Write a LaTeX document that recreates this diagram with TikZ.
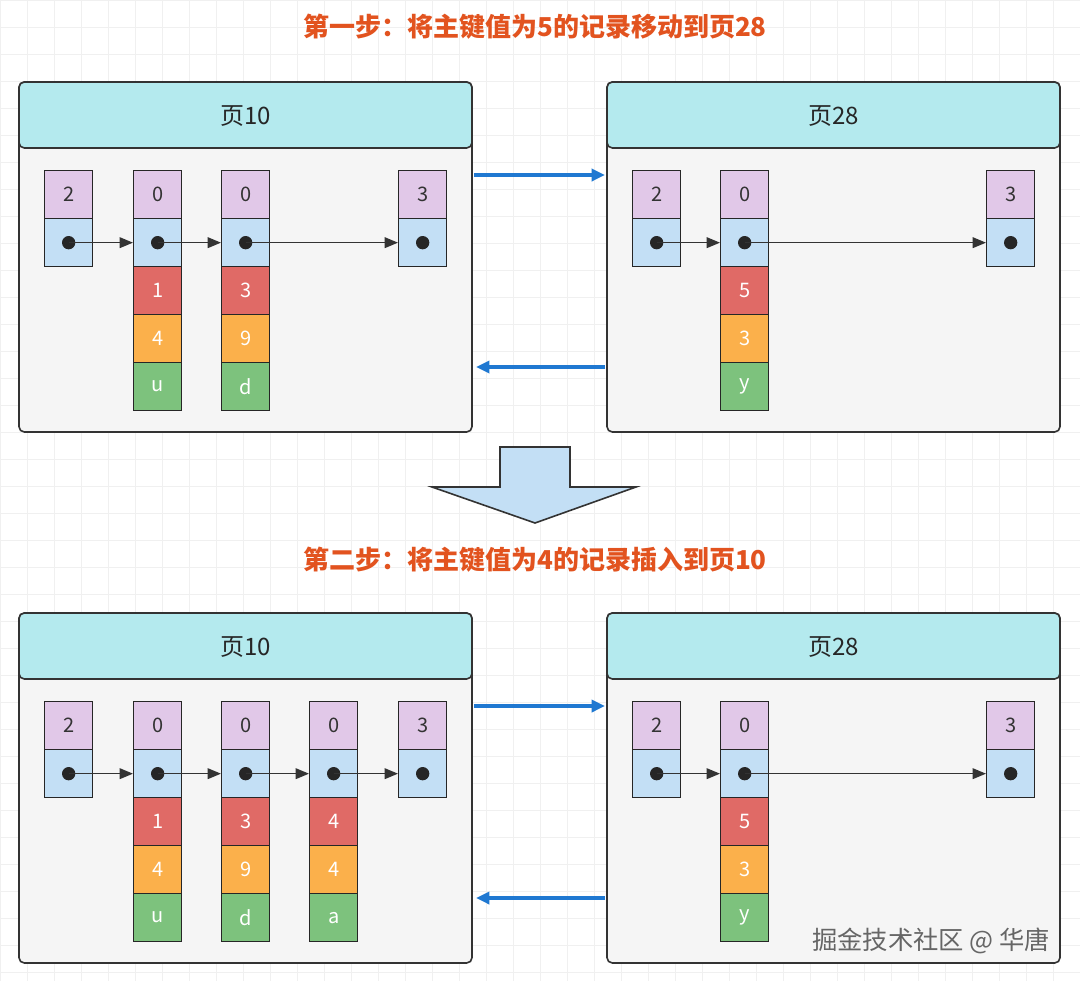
\documentclass[tikz,border=0pt]{standalone}
\usepackage{fontspec}
\usetikzlibrary{arrows.meta}
\setmainfont{Noto Sans CJK SC}
\begin{document}
\begin{tikzpicture}[x=0.75pt,y=-0.75pt,
  cell/.style={draw=black!85,line width=1pt,minimum width=36pt,minimum height=36pt,inner sep=0pt,anchor=north west,font=\fontsize{15}{15}\selectfont},
  pu/.style={cell,fill=purpleC,text=black!80},
  bl/.style={cell,fill=blueC},
  rd/.style={cell,fill=redC,text=white},
  og/.style={cell,fill=orangeC,text=white},
  gr/.style={cell,fill=greenC,text=white},
  page/.style={draw=black!80,line width=1.2pt,rounded corners=4pt,fill=bodyC},
  head/.style={draw=black!80,line width=1.2pt,rounded corners=4pt,fill=headC},
  ptitle/.style={font=\fontsize{18}{18}\selectfont,text=black!85},
  title/.style={font=\bfseries\fontsize{19.5}{20}\selectfont,text=titleC},
  dot/.style={circle,fill=black!85,inner sep=0pt,minimum size=10pt},
  lnk/.style={-{Triangle[length=10pt,width=8pt]},line width=1.2pt,black!80},
  barr/.style={-{Triangle[length=10pt,width=9pt]},line width=2.6pt,arrC}]
\definecolor{purpleC}{HTML}{E1C8E8}
\definecolor{blueC}{HTML}{C3DFF5}
\definecolor{redC}{HTML}{E06A66}
\definecolor{orangeC}{HTML}{FBB04B}
\definecolor{greenC}{HTML}{7DC27D}
\definecolor{bodyC}{HTML}{F5F5F5}
\definecolor{headC}{HTML}{B4EAEE}
\definecolor{titleC}{HTML}{E2531F}
\definecolor{arrC}{HTML}{1F78D1}
\useasboundingbox (0,0) rectangle (1080,981);
\fill[white] (0,0) rectangle (1080,981);
\foreach \i in {0,27,...,1080} \draw[black!6,line width=0.5pt] (\i,0) -- (\i,981);
\foreach \i in {0,27,...,981} \draw[black!6,line width=0.5pt] (0,\i) -- (1080,\i);

\node[title] (t1) at (535,27) {第一步：将主键值为5的记录移动到页28};
\node[title] (t2) at (535,560) {第二步：将主键值为4的记录插入到页10};

\foreach \n/\x/\y/\lab in {a/19/82/页10,b/607/82/页28,c/19/613/页10,d/607/613/页28}{
  \draw[page] (\x,\y) rectangle ++(453,350);
  \draw[head] (\x,\y) rectangle ++(453,66);
  \node[ptitle] (\n h) at (\x+226.5,\y+34) {\lab};
}

\newcommand{\myrec}[5]{%
  \node[pu] (#1t) at (#2,#3) {#4};
  \node[bl] (#1p) at (#2,#3+48) {};
  \node[dot] (#1d) at (#1p.center) {};
  \foreach \v/\s [count=\k] in {#5}{\node[\s] (#1x\k) at (#2,#3+48+48*\k) {\v};}%
}
\myrec{a1}{44}{170}{2}{}
\myrec{a2}{133}{170}{0}{1/rd,4/og,u/gr}
\myrec{a3}{221}{170}{0}{3/rd,9/og,d/gr}
\myrec{a4}{398}{170}{3}{}
\myrec{b1}{632}{170}{2}{}
\myrec{b2}{720}{170}{0}{5/rd,3/og,y/gr}
\myrec{b3}{986}{170}{3}{}
\myrec{c1}{44}{701}{2}{}
\myrec{c2}{133}{701}{0}{1/rd,4/og,u/gr}
\myrec{c3}{221}{701}{0}{3/rd,9/og,d/gr}
\myrec{c4}{309}{701}{0}{4/rd,4/og,a/gr}
\myrec{c5}{398}{701}{3}{}
\myrec{d1}{632}{701}{2}{}
\myrec{d2}{720}{701}{0}{5/rd,3/og,y/gr}
\myrec{d3}{986}{701}{3}{}

\foreach \a/\b in {a1/a2,a2/a3,a3/a4,b1/b2,b2/b3,c1/c2,c2/c3,c3/c4,c4/c5,d1/d2,d2/d3}
  \draw[lnk] (\a d.center) -- (\b p.west);

\coordinate (r1) at (474,175); \coordinate (r2) at (605,175);
\coordinate (l1) at (605,367); \coordinate (l2) at (476,367);
\draw[barr] (r1) -- (r2); \draw[barr] (l1) -- (l2);
\coordinate (r3) at (474,706); \coordinate (r4) at (605,706);
\coordinate (l3) at (605,898); \coordinate (l4) at (476,898);
\draw[barr] (r3) -- (r4); \draw[barr] (l3) -- (l4);

\draw[fill=blueC,draw=black!80,line width=1.2pt] (500,447) -- (570,447) -- (570,487) -- (636,487) -- (535,523) -- (432,487) -- (500,487) -- cycle;

\node[font=\fontsize{19}{19}\selectfont,text=black!60,anchor=east] (wm) at (1055,941) {掘金技术社区 @ 华唐};
\end{tikzpicture}
\end{document}
